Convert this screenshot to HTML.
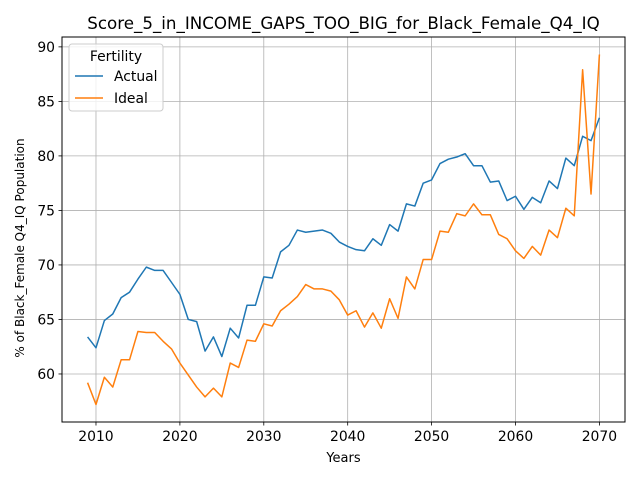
<!DOCTYPE html>
<html><head><meta charset="utf-8"><style>
body{margin:0;background:#fff;}
svg{display:block;font-family:"DejaVu Sans","Liberation Sans",sans-serif;}
</style></head><body>
<svg id="chart" width="640" height="480" viewBox="0 0 640 480">
<rect x="0" y="0" width="640" height="480" fill="#fff"/>
<text x="343.5" y="29" font-size="16.7" text-anchor="middle">Score_5_in_INCOME_GAPS_TOO_BIG_for_Black_Female_Q4_IQ</text>
<g id="grid"></g><g id="ticks"></g><g id="series"></g>
<rect x="62" y="37" width="563" height="385" fill="none" stroke="#000" stroke-width="1"/>
<text x="343.5" y="462" font-size="13" text-anchor="middle">Years</text>
<text transform="translate(24,248) rotate(-90)" font-size="12" text-anchor="middle">% of Black_Female Q4_IQ Population</text>
<g>
<rect x="69" y="44" width="94" height="67" rx="3" fill="#fff" fill-opacity="0.8" stroke="#ccc"/>
<text x="116" y="61" font-size="13.9" text-anchor="middle">Fertility</text>
<line x1="75" y1="76" x2="103" y2="76" stroke="#1f77b4" stroke-width="1.5"/>
<text x="114" y="81" font-size="13.9">Actual</text>
<line x1="75" y1="98" x2="103" y2="98" stroke="#ff7f0e" stroke-width="1.5"/>
<text x="114" y="103" font-size="13.9">Ideal</text>
</g>
</svg>
<script>
const years = [];
for (let y = 2009; y <= 2070; y++) years.push(y);
const actual = [63.4,62.4,64.9,65.5,67.0,67.5,68.7,69.8,69.5,69.5,68.4,67.3,65.0,64.8,62.1,63.4,61.6,64.2,63.3,66.3,66.3,68.9,68.8,71.2,71.8,73.2,73.0,73.1,73.2,72.9,72.1,71.7,71.4,71.3,72.4,71.8,73.7,73.1,75.6,75.4,77.5,77.8,79.3,79.7,79.9,80.2,79.1,79.1,77.6,77.7,75.9,76.3,75.1,76.2,75.7,77.7,77.0,79.8,79.1,81.8,81.4,83.5];
const ideal = [59.2,57.2,59.7,58.8,61.3,61.3,63.9,63.8,63.8,63.0,62.3,61.0,59.9,58.8,57.9,58.7,57.9,61.0,60.6,63.1,63.0,64.6,64.4,65.8,66.4,67.1,68.2,67.8,67.8,67.6,66.8,65.4,65.8,64.3,65.6,64.2,66.9,65.1,68.9,67.8,70.5,70.5,73.1,73.0,74.7,74.5,75.6,74.6,74.6,72.8,72.4,71.3,70.6,71.7,70.9,73.2,72.5,75.2,74.5,87.9,76.5,89.3];
const xTicks = [2010,2020,2030,2040,2050,2060,2070];
const yTicks = [60,65,70,75,80,85,90];
const NS = "http://www.w3.org/2000/svg";
const L=62,R=625,T=37,B=422;
const all = actual.concat(ideal);
const ymin0=Math.min(...all), ymax0=Math.max(...all), ym=(ymax0-ymin0)*0.05;
const xmin0=years[0], xmax0=years[years.length-1], xm=(xmax0-xmin0)*0.05;
const xs = v => L + (v-(xmin0-xm))/((xmax0+xm)-(xmin0-xm))*(R-L);
const ys = v => B - (v-(ymin0-ym))/((ymax0+ym)-(ymin0-ym))*(B-T);
function mk(tag, attrs){const e=document.createElementNS(NS,tag);for(const k in attrs)e.setAttribute(k,attrs[k]);return e;}
const grid=document.getElementById('grid'), ticks=document.getElementById('ticks'), ser=document.getElementById('series');
xTicks.forEach(t=>{
  const x=xs(t);
  const g=mk('line',{x1:x,x2:x,y1:T,y2:B,stroke:'#b0b0b0','stroke-width':0.8});
  
  
  grid.appendChild(g);
  ticks.appendChild(mk('line',{x1:x,x2:x,y1:B,y2:B+3.5,stroke:'#000','stroke-width':0.8}));
  const tx=mk('text',{x:x,y:B+19,'font-size':13.9,'text-anchor':'middle'});
  tx.textContent=t;
  
  
  ticks.appendChild(tx);
});
yTicks.forEach(t=>{
  const y=ys(t);
  const g=mk('line',{x1:L,x2:R,y1:y,y2:y,stroke:'#b0b0b0','stroke-width':0.8});
  
  
  grid.appendChild(g);
  ticks.appendChild(mk('line',{x1:L-3.5,x2:L,y1:y,y2:y,stroke:'#000','stroke-width':0.8}));
  const tx=mk('text',{x:L-7,y:y+5,'font-size':13.9,'text-anchor':'end'});
  tx.textContent=t;
  
  
  ticks.appendChild(tx);
});
function line(vals,color,name){
  const d=vals.map((v,i)=>(i?'L':'M')+xs(years[i]).toFixed(2)+' '+ys(v).toFixed(2)).join(' ');
  const p=mk('path',{d:d,fill:'none',stroke:color,'stroke-width':1.5,'stroke-linejoin':'round'});
  
  
  ser.appendChild(p);
}
line(actual,'#1f77b4','actual-line');
line(ideal,'#ff7f0e','ideal-line');
</script>
</body></html>
